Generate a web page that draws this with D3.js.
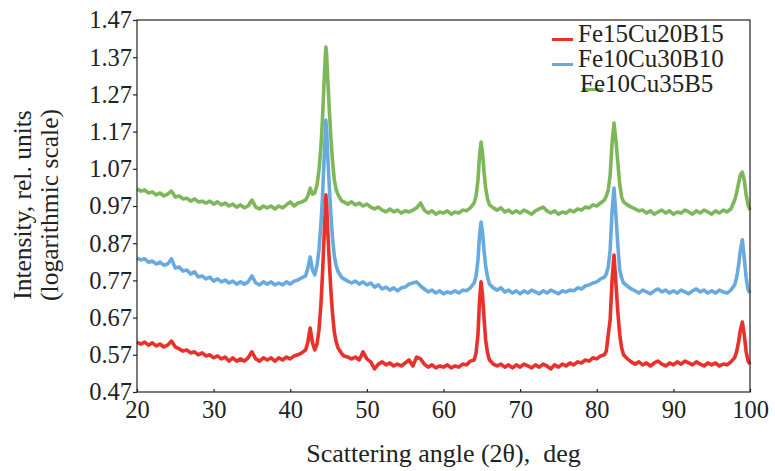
<!DOCTYPE html>
<html>
<head>
<meta charset="utf-8">
<title>XRD patterns</title>
<script src="https://d3js.org/d3.v7.min.js"></script>
<style>
  body { margin: 0; background: #fff; }
  svg text { font-family: "Liberation Serif", "Times New Roman", serif; fill: #222; }
  .pre { white-space: pre; }
</style>
</head>
<body>
<div id="chart"></div>
<script>
// scan angles (2theta, deg) - coarse on the background, finer across the peaks
var angles = [
  20, 20.5, 21, 21.5, 22, 22.5, 23, 23.5, 24, 24.5, 25, 25.5, 26, 26.5, 27, 27.5, 28, 28.5, 29, 29.5,
  30, 30.5, 31, 31.5, 32, 32.5, 33, 33.5, 34, 34.5, 35, 35.5, 36, 36.5, 37, 37.5, 38, 38.5, 39, 39.5,
  40, 40.5, 41, 41.5,
  42, 42.3, 42.6, 42.9, 43.2, 43.5, 43.75, 44, 44.2, 44.4, 44.55, 44.65, 44.75, 44.9, 45.1, 45.3,
  45.5, 45.75, 46, 46.25, 46.5, 46.75, 47,
  47.5, 48, 48.5, 49, 49.5, 50, 50.5, 51, 51.5, 52, 52.5, 53, 53.5, 54, 54.5, 55, 55.5, 56, 56.5,
  57, 57.5, 58, 58.5, 59, 59.5, 60, 60.5, 61, 61.5, 62, 62.5, 63, 63.5,
  64, 64.25, 64.5, 64.7, 64.9, 65.1, 65.3, 65.5, 65.75, 66,
  66.5, 67, 67.5, 68, 68.5, 69, 69.5, 70, 70.5, 71, 71.5, 72, 72.5, 73, 73.5, 74, 74.5, 75, 75.5,
  76, 76.5, 77, 77.5, 78, 78.5, 79, 79.5, 80, 80.5,
  81, 81.25, 81.5, 81.75, 82, 82.25, 82.5, 82.75, 83, 83.25, 83.5,
  84, 84.5, 85, 85.5, 86, 86.5, 87, 87.5, 88, 88.5, 89, 89.5, 90, 90.5, 91, 91.5, 92, 92.5, 93, 93.5,
  94, 94.5, 95, 95.5, 96, 96.5, 97, 97.5,
  98, 98.25, 98.5, 98.75, 99, 99.25, 99.5, 99.75, 100
];

var seriesNames = ["Fe15Cu20B15", "Fe10Cu30B10", "Fe10Cu35B5"];

var fe15cu20b15 = [
  0.604, 0.599, 0.604, 0.596, 0.602, 0.594, 0.599, 0.591, 0.596, 0.607, 0.591, 0.586, 0.580, 0.583, 0.575, 0.578, 0.570, 0.575, 0.567, 0.570,
  0.562, 0.567, 0.559, 0.564, 0.553, 0.562, 0.553, 0.559, 0.553, 0.562, 0.578, 0.559, 0.553, 0.562, 0.556, 0.562, 0.553, 0.562, 0.556, 0.564,
  0.559, 0.567, 0.570, 0.575,
  0.583, 0.604, 0.642, 0.602, 0.583, 0.599, 0.637, 0.704, 0.782, 0.879, 0.946, 1.000, 0.973, 0.900, 0.819, 0.744,
  0.685, 0.631, 0.604, 0.588, 0.580, 0.572, 0.567,
  0.564, 0.559, 0.564, 0.556, 0.578, 0.559, 0.551, 0.532, 0.545, 0.551, 0.543, 0.548, 0.540, 0.545, 0.540, 0.548, 0.556, 0.540, 0.564,
  0.559, 0.545, 0.537, 0.543, 0.535, 0.540, 0.537, 0.543, 0.535, 0.540, 0.537, 0.545, 0.543, 0.553,
  0.556, 0.575, 0.625, 0.715, 0.766, 0.728, 0.665, 0.610, 0.575, 0.556,
  0.545, 0.540, 0.545, 0.537, 0.543, 0.535, 0.543, 0.537, 0.545, 0.540, 0.535, 0.543, 0.537, 0.545, 0.540, 0.532, 0.543, 0.537, 0.545,
  0.540, 0.548, 0.543, 0.551, 0.548, 0.556, 0.553, 0.562, 0.559, 0.567,
  0.570, 0.580, 0.624, 0.664, 0.771, 0.838, 0.763, 0.685, 0.624, 0.588, 0.570,
  0.559, 0.551, 0.545, 0.551, 0.543, 0.548, 0.540, 0.548, 0.553, 0.545, 0.540, 0.548, 0.543, 0.551, 0.545, 0.553, 0.548, 0.543, 0.551, 0.545,
  0.540, 0.548, 0.543, 0.548, 0.540, 0.545, 0.543, 0.551,
  0.562, 0.578, 0.604, 0.637, 0.658, 0.624, 0.578, 0.553, 0.545
];

var fe10cu30b10 = [
  0.830, 0.825, 0.828, 0.819, 0.822, 0.814, 0.819, 0.811, 0.814, 0.828, 0.803, 0.806, 0.795, 0.798, 0.787, 0.793, 0.779, 0.782, 0.774, 0.779,
  0.768, 0.774, 0.766, 0.771, 0.763, 0.768, 0.760, 0.766, 0.760, 0.766, 0.782, 0.763, 0.758, 0.766, 0.760, 0.766, 0.758, 0.763, 0.758, 0.766,
  0.760, 0.768, 0.771, 0.777,
  0.782, 0.803, 0.833, 0.798, 0.785, 0.811, 0.852, 0.919, 0.991, 1.088, 1.153, 1.201, 1.174, 1.102, 1.021, 0.948,
  0.887, 0.836, 0.809, 0.793, 0.785, 0.777, 0.774,
  0.768, 0.763, 0.768, 0.760, 0.766, 0.758, 0.763, 0.752, 0.758, 0.747, 0.752, 0.744, 0.750, 0.742, 0.750, 0.752, 0.760, 0.763, 0.766,
  0.755, 0.747, 0.739, 0.744, 0.736, 0.742, 0.734, 0.739, 0.736, 0.742, 0.736, 0.744, 0.742, 0.750,
  0.763, 0.782, 0.825, 0.890, 0.927, 0.897, 0.848, 0.809, 0.779, 0.760,
  0.750, 0.744, 0.750, 0.739, 0.744, 0.736, 0.742, 0.734, 0.742, 0.736, 0.744, 0.739, 0.734, 0.742, 0.736, 0.744, 0.739, 0.734, 0.742,
  0.739, 0.744, 0.742, 0.750, 0.747, 0.755, 0.758, 0.763, 0.766, 0.774,
  0.779, 0.787, 0.806, 0.852, 0.955, 1.018, 0.946, 0.865, 0.798, 0.777, 0.763,
  0.755, 0.747, 0.742, 0.736, 0.744, 0.739, 0.734, 0.742, 0.747, 0.739, 0.744, 0.736, 0.742, 0.736, 0.744, 0.739, 0.734, 0.742, 0.747, 0.739,
  0.744, 0.736, 0.742, 0.736, 0.744, 0.739, 0.736, 0.744,
  0.758, 0.777, 0.809, 0.852, 0.879, 0.830, 0.777, 0.744, 0.736
];

var fe10cu35b5 = [
  1.016, 1.010, 1.013, 1.005, 1.008, 1.000, 1.005, 0.997, 1.002, 1.010, 0.994, 0.997, 0.989, 0.991, 0.983, 0.989, 0.981, 0.983, 0.978, 0.983,
  0.975, 0.981, 0.973, 0.978, 0.970, 0.975, 0.967, 0.973, 0.965, 0.970, 0.986, 0.967, 0.962, 0.970, 0.965, 0.970, 0.962, 0.970, 0.965, 0.973,
  0.981, 0.970, 0.978, 0.981,
  0.986, 0.997, 1.018, 1.002, 1.005, 1.027, 1.067, 1.129, 1.201, 1.295, 1.363, 1.397, 1.376, 1.309, 1.228, 1.155,
  1.094, 1.040, 1.013, 1.000, 0.991, 0.983, 0.981,
  0.975, 0.981, 0.973, 0.978, 0.970, 0.975, 0.967, 0.962, 0.967, 0.959, 0.954, 0.962, 0.954, 0.959, 0.951, 0.957, 0.954, 0.959, 0.965,
  0.978, 0.959, 0.951, 0.957, 0.948, 0.954, 0.951, 0.957, 0.948, 0.954, 0.951, 0.959, 0.957, 0.965,
  0.978, 0.997, 1.040, 1.105, 1.142, 1.110, 1.060, 1.018, 0.989, 0.973,
  0.965, 0.959, 0.965, 0.954, 0.959, 0.951, 0.957, 0.951, 0.959, 0.954, 0.948, 0.957, 0.962, 0.967, 0.957, 0.951, 0.957, 0.948, 0.954,
  0.951, 0.959, 0.954, 0.962, 0.959, 0.967, 0.965, 0.973, 0.970, 0.978,
  0.986, 0.997, 1.013, 1.053, 1.139, 1.193, 1.147, 1.088, 1.027, 0.994, 0.981,
  0.973, 0.967, 0.962, 0.957, 0.959, 0.951, 0.957, 0.948, 0.954, 0.959, 0.951, 0.957, 0.948, 0.954, 0.951, 0.959, 0.954, 0.948, 0.957, 0.951,
  0.959, 0.954, 0.948, 0.957, 0.951, 0.959, 0.954, 0.962,
  0.986, 1.005, 1.030, 1.054, 1.061, 1.040, 1.000, 0.973, 0.959
];

var xTicks = [20, 30, 40, 50, 60, 70, 80, 90, 100];
var yTicks = [0.47, 0.57, 0.67, 0.77, 0.87, 0.97, 1.07, 1.17, 1.27, 1.37, 1.47];

var colors = ["#e8312a", "#68aade", "#7db75a"];

var margin = {top: 20, right: 25, bottom: 79, left: 137},
    W = 775, H = 471,
    width = W - margin.left - margin.right,
    height = H - margin.top - margin.bottom;

var svg = d3.select("#chart").append("svg")
    .attr("width", W)
    .attr("height", H);

var g = svg.append("g")
    .attr("transform", "translate(" + margin.left + "," + margin.top + ")");

var x = d3.scaleLinear().domain([20, 100]).range([0, width]);
var y = d3.scaleLinear().domain([0.47, 1.47]).range([height, 0]);

var line = d3.line()
    .x(function(d, i) { return x(angles[i]); })
    .y(function(d) { return y(d); });

// green first, red on top
var series = [fe15cu20b15, fe10cu30b10, fe10cu35b5];
[2, 1, 0].forEach(function(k) {
  g.append("path")
    .datum(series[k])
    .attr("d", line)
    .attr("fill", "none")
    .attr("stroke", colors[k])
    .attr("stroke-width", 3.6)
    .attr("stroke-linejoin", "round");
});

// frame
g.append("rect")
  .attr("width", width)
  .attr("height", height)
  .attr("fill", "none")
  .attr("stroke", "#222")
  .attr("stroke-width", 1.2);

var yAxis = g.append("g")
  .call(d3.axisLeft(y).tickValues(yTicks).tickFormat(d3.format(".2f")).tickSize(4).tickPadding(1));
var xAxis = g.append("g")
  .attr("transform", "translate(0," + height + ")")
  .call(d3.axisBottom(x).tickValues(xTicks).tickSize(-3).tickPadding(9));

[yAxis, xAxis].forEach(function(a) {
  a.select(".domain").remove();
  a.selectAll("line").attr("stroke", "#222").attr("stroke-width", 1.2);
  a.selectAll("text").style("font-family", "Liberation Serif, serif")
    .style("font-size", "24.5px").attr("fill", "#222");
});

// axis titles
svg.append("text")
  .attr("class", "pre")
  .attr("x", margin.left + width / 2)
  .attr("y", 462)
  .attr("text-anchor", "middle")
  .style("font-size", "26px")
  .text("Scattering angle (2θ),  deg");

svg.append("text")
  .attr("transform", "translate(31,205) rotate(-90)")
  .attr("text-anchor", "middle")
  .style("font-size", "25.5px")
  .text("Intensity, rel. units");
svg.append("text")
  .attr("transform", "translate(58,205) rotate(-90)")
  .attr("text-anchor", "middle")
  .style("font-size", "25.5px")
  .text("(logarithmic scale)");

// legend
var legend = svg.append("g");
seriesNames.forEach(function(name, i) {
  var ly = 42 + i * 25;
  var sx = i < 2 ? 552 : 582;
  legend.append("line")
    .attr("x1", sx).attr("x2", sx + 21)
    .attr("y1", ly - 2.5).attr("y2", ly - 2.5)
    .attr("stroke", colors[i])
    .attr("stroke-width", 3);
  legend.append("text")
    .attr("x", i < 2 ? 578 : 580)
    .attr("y", ly)
    .style("font-size", "25px")
    .text(name);
});
</script>
</body>
</html>
